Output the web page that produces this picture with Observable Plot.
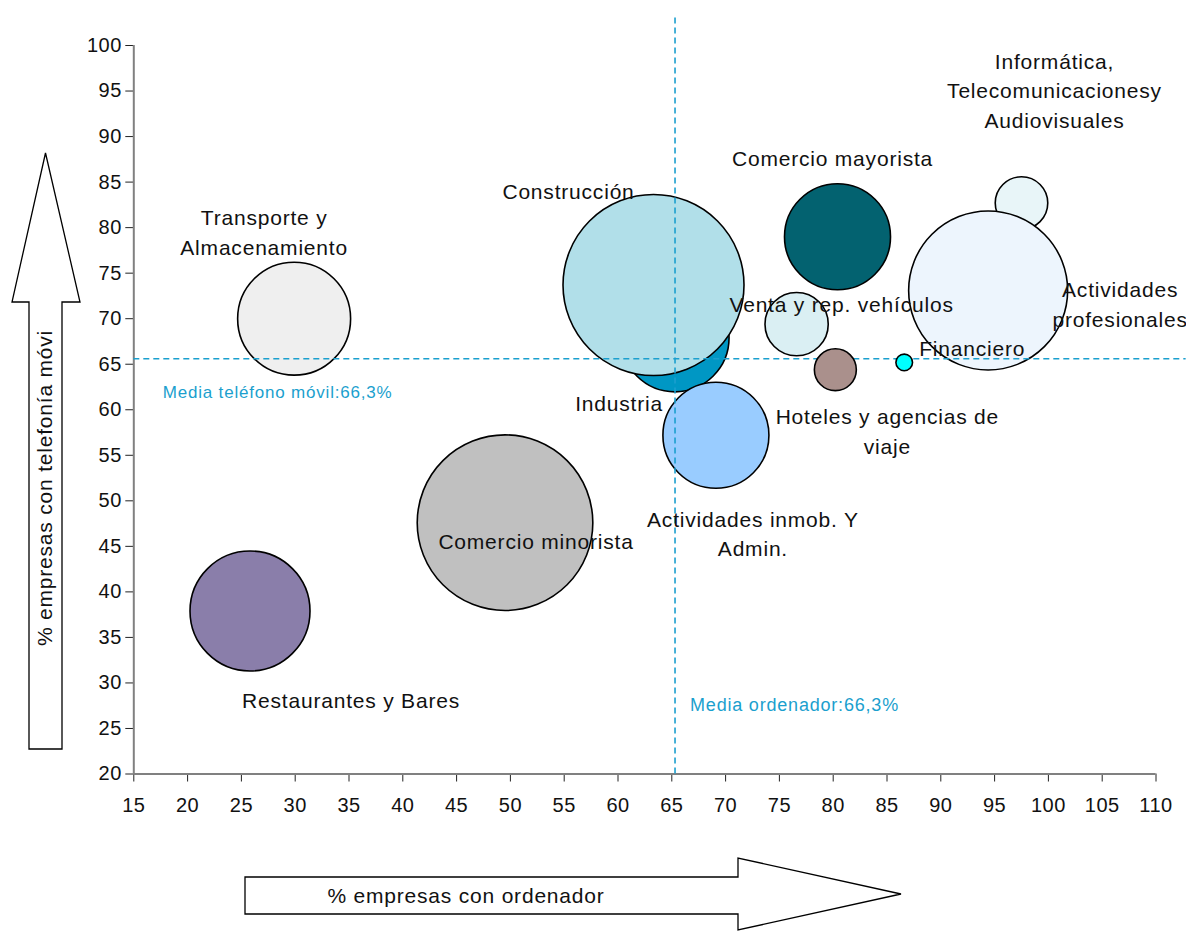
<!DOCTYPE html>
<html>
<head>
<meta charset="utf-8">
<script src="https://cdn.jsdelivr.net/npm/d3@7"></script>
<script src="https://cdn.jsdelivr.net/npm/@observablehq/plot@0.6"></script>
<style>
  html, body { margin: 0; padding: 0; background: #fff; }
  #wrap { position: relative; width: 1186px; height: 931px; }
  #overlay { position: absolute; left: 0; top: 0; pointer-events: none; }
  g[aria-label="x-axis tick"], g[aria-label="y-axis tick"] { stroke: #222; }
  g[aria-label="x-axis tick label"] text, g[aria-label="y-axis tick label"] text { letter-spacing: 0.5px; }
  g[aria-label="media-movil"] text { letter-spacing: 1.3px; }
  g[aria-label="media-ordenador"] text { letter-spacing: 0.5px; }
</style>
</head>
<body>
<div id="wrap"></div>
<script>
// ---- data ----
const sectors = [
  "Restaurantes y Bares", "Comercio minorista", "Transporte y Almacenamiento", "Industria",
  "Construcción", "Actividades inmob. Y Admin.", "Comercio mayorista", "Venta y rep. vehículos",
  "Informática, Telecomunicaciones y Audiovisuales", "Actividades profesionales",
  "Hoteles y agencias de viaje", "Financiero"
];
const labelTexts = [
  "Restaurantes y Bares", "Comercio minorista", "Transporte y\nAlmacenamiento", "Industria",
  "Construcción", "Actividades inmob. Y\nAdmin.", "Comercio mayorista", "Venta y rep. vehículos",
  "Informática,\nTelecomunicacionesy\nAudiovisuales", "Actividades\nprofesionales",
  "Hoteles y agencias de\nviaje", "Financiero"
];
const pctOrdenador = [25.8, 49.5, 29.9, 65.3, 63.3, 69.1, 80.4, 76.6, 97.5, 94.4, 80.2, 86.6];
const pctMovil     = [37.9, 47.6, 70.0, 67.9, 73.7, 57.2, 79.0, 69.4, 82.7, 73.1, 64.4, 65.2];
const bubbleSize   = [36.0, 77.1, 31.9, 29.2, 81.9, 28.1, 28.1, 10.0, 6.9, 63.2, 4.4, 0.69];
const colors = ["#8a7eaa", "#c0c0c0", "#efefef", "#0097c4", "#b1dfe9", "#99ccff",
                "#036270", "#daeff3", "#e8f5f8", "#edf5fd", "#aa908c", "#00ffff"];
const frontLayer = ["Hoteles y agencias de viaje", "Financiero"];
const xTicks = d3.range(15, 111, 5);
const yTicks = d3.range(20, 101, 5);
const meanOrdenador = 65.3;
const meanMovil = 65.6;
const meanOrdenadorLabel = "Media ordenador:66,3%";
const meanMovilLabel = "Media teléfono móvil:66,3%";
const xTitle = "% empresas con ordenador";
const yTitle = "% empresas con telefonía móvi";

// label offsets in pixels relative to bubble centre (styling)
const labelOffsets = {
  "Restaurantes y Bares": [101, 88],
  "Comercio minorista": [31, 17],
  "Transporte y Almacenamiento": [-30, -88],
  "Industria": [-56, 64],
  "Construcción": [-85, -95],
  "Actividades inmob. Y Admin.": [37, 97],
  "Comercio mayorista": [-5, -80],
  "Venta y rep. vehículos": [45, -22],
  "Informática, Telecomunicaciones y Audiovisuales": [33, -114],
  "Actividades profesionales": [132, 12],
  "Hoteles y agencias de viaje": [52, 60],
  "Financiero": [68, -16]
};

const data = sectors.map((s, i) => ({
  sector: s, label: labelTexts[i], x: pctOrdenador[i], y: pctMovil[i],
  size: bubbleSize[i], color: colors[i]
}));

const back = data.filter(d => !frontLayer.includes(d.sector));
const front = data.filter(d => frontLayer.includes(d.sector));

const meanColor = "#1b9fce";
const dotOpts = {x: "x", y: "y", r: "size", fill: "color", stroke: "#000", strokeWidth: 1.6, sort: null};

const labelMarks = data.map(d => Plot.text([d], {
  x: "x", y: "y", text: "label",
  dx: labelOffsets[d.sector][0], dy: labelOffsets[d.sector][1],
  fontSize: 21, lineHeight: 1.4, fill: "#111"
}));

const chart = Plot.plot({
  width: 1186,
  height: 931,
  marginLeft: 133.3,
  marginRight: 30.5,
  marginTop: 45,
  marginBottom: 157.5,
  x: {domain: [15, 110], ticks: xTicks, tickSize: 8, tickPadding: 16, label: null},
  y: {domain: [20, 100], ticks: yTicks, tickSize: 8, tickPadding: 4, label: null},
  r: {type: "sqrt", domain: [0, 81.9], range: [0, 90.5]},
  color: {type: "identity"},
  style: {
    fontFamily: "'Liberation Sans', Arial, sans-serif",
    fontSize: "20px",
    letterSpacing: "0.8px",
    color: "#111",
    background: "#fff",
    overflow: "visible"
  },
  marks: [
    Plot.ruleX([15], {y1: 20, y2: 100, stroke: "#808080", strokeWidth: 2}),
    Plot.ruleY([20], {x1: 15, x2: 110, stroke: "#808080", strokeWidth: 2}),
    Plot.dot(back, dotOpts),
    Plot.ruleX([meanOrdenador], {y1: 20, y2: 103.4, stroke: meanColor, strokeWidth: 1.6, strokeDasharray: "6,4"}),
    Plot.ruleY([meanMovil], {x1: 15, x2: 112.8, stroke: meanColor, strokeWidth: 1.6, strokeDasharray: "6,4"}),
    Plot.dot(front, dotOpts),
    ...labelMarks,
    Plot.text([meanMovil], {y: d => d, frameAnchor: "left", dx: 29, dy: 34, text: () => meanMovilLabel,
      textAnchor: "start", fill: meanColor, fontSize: 17, ariaLabel: "media-movil"}),
    Plot.text([meanOrdenador], {x: d => d, frameAnchor: "bottom", dx: 15, dy: -63, text: () => meanOrdenadorLabel,
      textAnchor: "start", fill: meanColor, fontSize: 18, ariaLabel: "media-ordenador"})
  ]
});

const wrap = document.getElementById("wrap");
wrap.appendChild(chart);

// decorative arrows holding the axis titles
const ov = d3.select(wrap).append("svg")
  .attr("id", "overlay").attr("width", 1186).attr("height", 931)
  .style("font-family", "'Liberation Sans', Arial, sans-serif");

ov.append("polygon")
  .attr("points", [[29,749],[62,749],[62,302],[80,302],[45.5,153],[12,302],[29,302]].map(p => p.join(",")).join(" "))
  .attr("fill", "#fff").attr("stroke", "#000").attr("stroke-width", 1.3);
ov.append("text")
  .attr("transform", "translate(45,488) rotate(-90)")
  .attr("text-anchor", "middle").attr("dy", "0.35em")
  .attr("font-size", 21).attr("letter-spacing", "0.8px").attr("fill", "#111")
  .text(yTitle);

ov.append("polygon")
  .attr("points", [[245,877],[738,877],[738,858],[901,894],[738,930],[738,914],[245,914]].map(p => p.join(",")).join(" "))
  .attr("fill", "#fff").attr("stroke", "#000").attr("stroke-width", 1.3);
ov.append("text")
  .attr("x", 466).attr("y", 896)
  .attr("text-anchor", "middle").attr("dy", "0.35em")
  .attr("font-size", 21).attr("letter-spacing", "0.8px").attr("fill", "#111")
  .text(xTitle);
</script>
</body>
</html>
